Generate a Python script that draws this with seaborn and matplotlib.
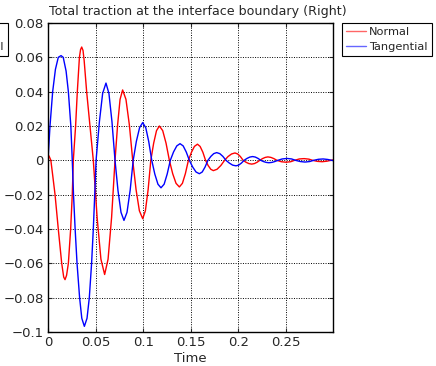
import matplotlib
matplotlib.use("Agg")
import matplotlib.pyplot as plt
import seaborn as sns
import pandas as pd
from matplotlib.ticker import FuncFormatter, MultipleLocator
from matplotlib.lines import Line2D

# ---- data ----
normal_t = [0.0, 0.0015, 0.003, 0.005, 0.0074, 0.0108, 0.0144, 0.0165, 0.0179, 0.0195, 0.0214, 0.0238, 0.0255,
            0.0266, 0.029, 0.0308, 0.033, 0.0342, 0.0354, 0.0368, 0.038, 0.0406, 0.0441, 0.0476,
            0.0516, 0.0556, 0.0595, 0.0631, 0.0668, 0.0704,
            0.0731, 0.0757, 0.0784, 0.0819, 0.0855, 0.089,
            0.0925, 0.096, 0.0995, 0.1023, 0.1052, 0.108,
            0.111, 0.114, 0.117, 0.1205, 0.124, 0.1275,
            0.131, 0.1345, 0.138, 0.1412, 0.1443, 0.1475,
            0.1507, 0.1538, 0.157, 0.1598, 0.1627, 0.1655,
            0.1682, 0.171, 0.1737, 0.1776, 0.1816, 0.1855,
            0.1891, 0.1928, 0.1964, 0.1993, 0.2021, 0.205,
            0.208, 0.211, 0.214, 0.2168, 0.2197, 0.2225,
            0.2253, 0.2282, 0.231, 0.2342, 0.2373, 0.2405,
            0.245, 0.25, 0.255, 0.259, 0.264, 0.269, 0.274, 0.278, 0.283, 0.288, 0.293, 0.297, 0.3]
normal_v = [0.0035, 0.002, 0.0, -0.009, -0.02, -0.04, -0.06, -0.068, -0.0695, -0.067, -0.06, -0.04, -0.02,
            0.0, 0.02, 0.04, 0.06, 0.0645, 0.066, 0.064, 0.058, 0.04, 0.02, 0.0,
            -0.0333, -0.0576, -0.0665, -0.0576, -0.0333, 0.0,
            0.0205, 0.0355, 0.041, 0.0355, 0.0205, 0.0,
            -0.017, -0.0294, -0.034, -0.0294, -0.017, 0.0,
            0.010, 0.0173, 0.020, 0.0173, 0.010, 0.0,
            -0.0078, -0.0134, -0.0155, -0.0134, -0.0078, 0.0,
            0.0047, 0.0081, 0.0094, 0.0081, 0.0047, 0.0,
            -0.003, -0.0052, -0.006, -0.0052, -0.003, 0.0,
            0.0022, 0.0037, 0.0043, 0.0037, 0.0022, 0.0,
            -0.0011, -0.0019, -0.0022, -0.0019, -0.0011, 0.0,
            0.001, 0.0017, 0.002, 0.0017, 0.001, 0.0,
            -0.0008, -0.0011, -0.0008, 0.0, 0.0008, 0.001, 0.0007, 0.0, -0.0006, -0.0008, -0.0005, 0.0, 0.0003]

tang_t = [0.0, 0.0021, 0.0049, 0.0078, 0.0108, 0.0137, 0.016, 0.019, 0.0214, 0.024, 0.0255,
          0.0268, 0.0285, 0.0305, 0.0332, 0.0355, 0.0382, 0.041, 0.0434, 0.0458, 0.0476, 0.0491, 0.0505,
          0.054, 0.0574, 0.0609, 0.064, 0.0672, 0.0704,
          0.0735, 0.0767, 0.0798, 0.083, 0.0863, 0.0895,
          0.0928, 0.0962, 0.0995, 0.1027, 0.1058, 0.109,
          0.1122, 0.1155, 0.1187, 0.122, 0.1252, 0.1285,
          0.1319, 0.1353, 0.1387, 0.142, 0.1452, 0.1485,
          0.152, 0.1555, 0.159, 0.162, 0.165, 0.168,
          0.1711, 0.1741, 0.1772, 0.1805, 0.1837, 0.187,
          0.1905, 0.194, 0.1975, 0.2003, 0.2032, 0.206,
          0.209, 0.212, 0.215, 0.2178, 0.2207, 0.2235,
          0.2263, 0.2292, 0.232, 0.2352, 0.2383, 0.2415,
          0.246, 0.251, 0.256, 0.26, 0.265, 0.27, 0.275, 0.279, 0.284, 0.289, 0.294, 0.298, 0.3]
tang_v = [0.0, 0.02, 0.04, 0.053, 0.06, 0.061, 0.06, 0.052, 0.04, 0.02, 0.0,
          -0.02, -0.04, -0.06, -0.08, -0.092, -0.0967, -0.092, -0.08, -0.06, -0.04, -0.02, 0.0,
          0.0225, 0.039, 0.045, 0.039, 0.0225, 0.0,
          -0.0175, -0.0303, -0.035, -0.0303, -0.0175, 0.0,
          0.011, 0.019, 0.022, 0.019, 0.011, 0.0,
          -0.008, -0.0139, -0.016, -0.0139, -0.008, 0.0,
          0.0049, 0.0084, 0.0097, 0.0084, 0.0049, 0.0,
          -0.0039, -0.0068, -0.0078, -0.0068, -0.0039, 0.0,
          0.0023, 0.0039, 0.0045, 0.0039, 0.0023, 0.0,
          -0.0016, -0.0028, -0.0032, -0.0028, -0.0016, 0.0,
          0.0011, 0.0019, 0.0022, 0.0019, 0.0011, 0.0,
          -0.0007, -0.0012, -0.0014, -0.0012, -0.0007, 0.0,
          0.0008, 0.0011, 0.0008, 0.0, -0.0007, -0.001, -0.0007, 0.0, 0.0006, 0.0008, 0.0005, 0.0, -0.0002]

series_names = ["Normal", "Tangential"]
series_colors = ["#ff0000", "#0000ff"]
title_text = "Total traction at the interface boundary (Right)"
x_label = "Time"

df = pd.concat([
    pd.DataFrame({"Time": normal_t, "Value": normal_v, "Series": series_names[0]}),
    pd.DataFrame({"Time": tang_t, "Value": tang_v, "Series": series_names[1]}),
])

sns.set_style("ticks")
plt.rcParams["font.family"] = ["DejaVu Sans"]

fig = plt.figure(figsize=(4.36, 3.66), dpi=100)
ax = fig.add_axes([48 / 436, 1 - 332 / 366, (333 - 48) / 436, (332 - 23) / 366])

sns.lineplot(data=df, x="Time", y="Value", hue="Series", palette=dict(zip(series_names, series_colors)),
             linewidth=1.0, sort=False, legend=False, ax=ax)

ax.set_xlim(0, 0.2994)
ax.set_ylim(-0.1, 0.08)
ax.xaxis.set_major_locator(MultipleLocator(0.05))
ax.yaxis.set_major_locator(MultipleLocator(0.02))
fmt = FuncFormatter(lambda v, p: ("{:g}".format(round(v, 4))).replace("-", "\u2212") if abs(v) > 1e-9 else "0")
ax.xaxis.set_major_formatter(fmt)
ax.yaxis.set_major_formatter(fmt)
ax.grid(True, color="black", linestyle=(0, (1, 1.5)), linewidth=0.7)
ax.tick_params(direction="in", length=3, width=0.8, labelsize=9.5, top=True, right=True, pad=3)
for s in ax.spines.values():
    s.set_linewidth(1.0)
    s.set_color("black")
ax.set_xlabel(x_label, fontsize=9.5, labelpad=2)
ax.set_ylabel("")
fig.text(198 / 436, 1 - 12 / 366, title_text, fontsize=9.1, ha="center", va="center")

handles = [Line2D([0], [0], color=c, lw=1.0, alpha=0.6) for c in series_colors]
leg_kw = dict(fontsize=8.2, frameon=True, fancybox=False, edgecolor="black", framealpha=1,
              borderpad=0.35, handlelength=1.8, handletextpad=0.25, labelspacing=0.4, borderaxespad=0)
leg = fig.legend(handles, series_names, loc="upper left", bbox_to_anchor=(342 / 436, 1 - 23 / 366), **leg_kw)
leg.get_frame().set_linewidth(0.8)
leg2 = fig.legend(handles, series_names, loc="upper right", bbox_to_anchor=(8 / 436, 1 - 23 / 366), **leg_kw)
leg2.get_frame().set_linewidth(0.8)

fig.savefig("out.png", dpi=100)
